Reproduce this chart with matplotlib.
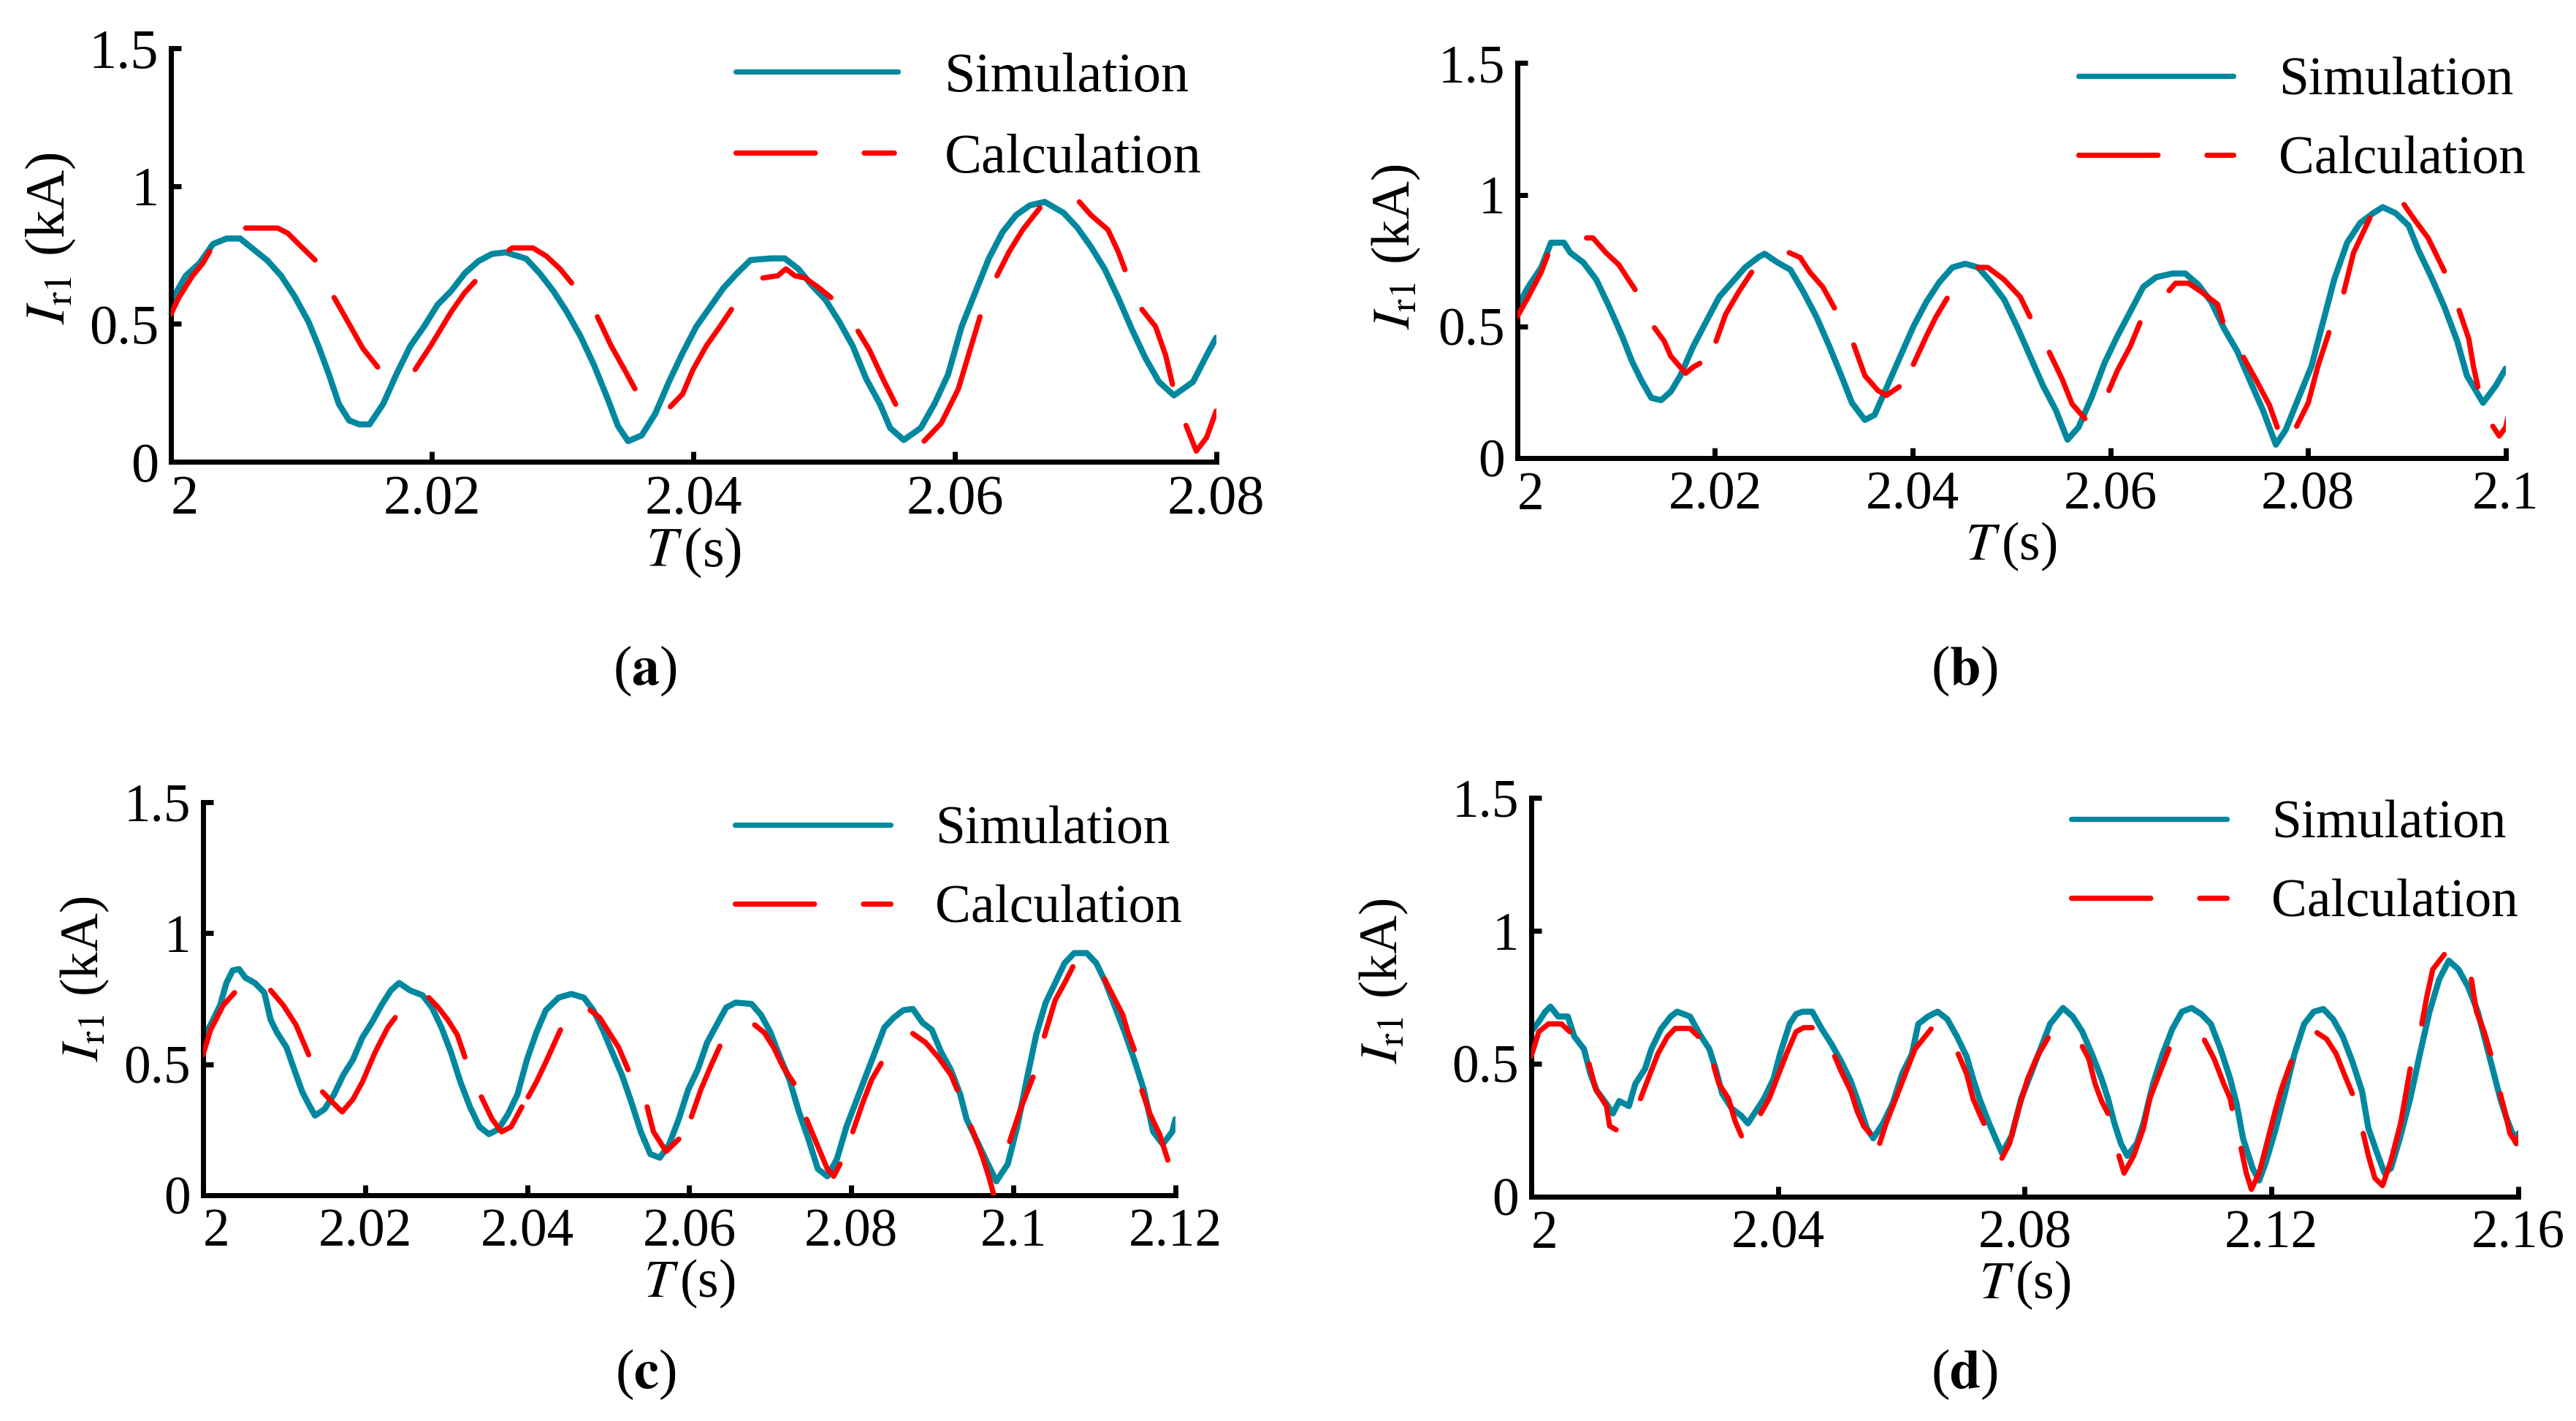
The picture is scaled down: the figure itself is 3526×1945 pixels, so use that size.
import numpy as np
import matplotlib
matplotlib.use("Agg")
import matplotlib.pyplot as plt
from matplotlib.lines import Line2D

plt.rcParams['font.family'] = ['Liberation Serif', 'DejaVu Serif']
plt.rcParams['mathtext.fontset'] = 'stix'

nan = np.nan
TEAL = '#00889F'
RED = '#FF0000'

# time is given in ms after t = 2 s, current in kA
# (a)
sim_a_ms = [0, 1.15, 2.19, 3.23, 4.27, 5.31, 6.35, 7.40, 8.44, 9.48, 10.52, 11.30, 12.08,
            12.86, 13.65, 14.43, 15.21, 16.25, 17.29, 18.33, 19.37, 20.42, 21.46, 22.50,
            23.54, 24.58, 25.62, 27.19, 28.23, 29.27, 30.31, 31.35, 32.40, 33.44, 34.22,
            35.00, 36.04, 37.08, 38.12, 39.17, 40.21, 41.25, 42.29, 43.33, 44.37, 45.94,
            46.98, 48.02, 49.06, 50.10, 51.15, 52.19, 53.23, 54.27, 55.05, 56.09, 57.40,
            58.44, 59.48, 60.52, 61.56, 62.60, 63.65, 64.69, 65.73, 66.88, 68.33, 69.37,
            70.42, 71.46, 72.50, 73.54, 74.58, 75.63, 76.77, 78.23, 79.27, 80.0]
sim_a_i = [0.58, 0.675, 0.72, 0.79, 0.81, 0.81, 0.77, 0.73, 0.675, 0.60, 0.51, 0.42, 0.32,
           0.21, 0.15, 0.136, 0.136, 0.21, 0.32, 0.42, 0.49, 0.57, 0.62, 0.684, 0.728,
           0.754, 0.76, 0.737, 0.684, 0.62, 0.544, 0.456, 0.35, 0.228, 0.13, 0.075, 0.096,
           0.175, 0.29, 0.395, 0.49, 0.56, 0.63, 0.684, 0.732, 0.738, 0.738, 0.70, 0.64,
           0.588, 0.509, 0.42, 0.30, 0.21, 0.123, 0.079, 0.123, 0.21, 0.316, 0.49, 0.614,
           0.737, 0.833, 0.895, 0.93, 0.943, 0.903, 0.85, 0.78, 0.70, 0.596, 0.482, 0.377,
           0.29, 0.241, 0.29, 0.386, 0.45]
calc_a_ms = [0, 0.62, 1.67, 2.45, 2.97, nan, 5.73, 8.18, 8.96, 10.0, 11.04, nan,
             12.5, 13.65, 14.69, 15.83, nan, 18.7, 19.89, 21.46, 22.5, 23.28, nan,
             25.88, 26.14, 27.71, 28.75, 29.79, 30.67, nan, 32.65, 33.7, 34.74, 35.52, nan,
             38.23, 39.17, 39.95, 40.99, 42.03, 42.91, nan,
             45.31, 46.45, 47.08, 47.76, 48.54, 49.58, 50.52, nan,
             52.6, 53.49, 54.53, 55.47, nan, 57.65, 58.96, 60.26, 61.04, 61.93, nan,
             63.23, 64.17, 65.2, 66.51, nan, 69.53, 70.42, 71.72, 72.5, 73.02, nan,
             74.32, 75.36, 76.14, 76.66, nan, 77.7, 78.48, 79.27, 80.0]
calc_a_i = [0.535, 0.596, 0.675, 0.72, 0.763, nan, 0.848, 0.848, 0.829, 0.78, 0.732, nan,
            0.596, 0.5, 0.412, 0.344, nan, 0.335, 0.421, 0.544, 0.614, 0.654, nan,
            0.768, 0.776, 0.776, 0.746, 0.70, 0.649, nan, 0.526, 0.421, 0.333, 0.265, nan,
            0.2, 0.246, 0.333, 0.421, 0.491, 0.553, nan,
            0.667, 0.675, 0.70, 0.675, 0.667, 0.632, 0.596, nan,
            0.474, 0.404, 0.298, 0.209, nan, 0.075, 0.14, 0.263, 0.386, 0.526, nan,
            0.675, 0.763, 0.842, 0.921, nan, 0.943, 0.895, 0.842, 0.763, 0.697, nan,
            0.553, 0.491, 0.386, 0.281, nan, 0.132, 0.039, 0.088, 0.184]

# (b)
sim_b_ms = [0, 1.11, 2.42, 3.41, 4.72, 5.37, 6.68, 7.99, 9.30, 10.61, 11.59, 12.57, 13.56,
            14.54, 15.52, 16.50, 17.81, 19.12, 20.43, 21.74, 23.05, 24.36, 25.02, 26.33,
            27.64, 28.95, 30.26, 31.57, 32.88, 33.86, 35.17, 36.15, 37.46, 38.77, 40.08,
            41.39, 42.70, 44.01, 45.32, 46.63, 47.94, 49.25, 50.56, 51.87, 53.18, 54.49,
            55.67, 56.78, 58.09, 59.40, 60.71, 62.02, 63.33, 64.64, 66.28, 67.59, 68.90,
            70.21, 71.52, 72.83, 74.13, 75.44, 76.75, 77.74, 79.05, 80.36, 81.34, 82.65,
            83.96, 85.27, 86.58, 87.56, 88.87, 90.18, 91.17, 92.48, 93.79, 95.10, 96.08,
            97.71, 99.02, 100.0]
sim_b_i = [0.575, 0.65, 0.724, 0.818, 0.818, 0.78, 0.743, 0.678, 0.575, 0.463, 0.369, 0.294,
           0.229, 0.22, 0.252, 0.313, 0.425, 0.519, 0.612, 0.668, 0.724, 0.762, 0.776,
           0.743, 0.715, 0.631, 0.537, 0.425, 0.304, 0.21, 0.145, 0.164, 0.276, 0.388, 0.5,
           0.593, 0.668, 0.724, 0.738, 0.724, 0.668, 0.603, 0.5, 0.388, 0.276, 0.182, 0.07,
           0.117, 0.229, 0.36, 0.463, 0.556, 0.65, 0.687, 0.701, 0.701, 0.659, 0.593,
           0.491, 0.407, 0.294, 0.182, 0.051, 0.107, 0.229, 0.35, 0.491, 0.678, 0.818,
           0.893, 0.93, 0.953, 0.93, 0.883, 0.79, 0.687, 0.575, 0.444, 0.313, 0.21, 0.276,
           0.34]
calc_b_ms = [0, 1.11, 2.42, 3.08, nan, 7.01, 7.66, 8.97, 10.28, 10.94, 11.92, nan,
             13.88, 14.87, 15.52, 17.03, 17.81, 18.47, nan, 20.11, 21.09, 22.40, 23.71, nan,
             27.51, 28.62, 29.60, 30.91, 32.09, nan, 34.05, 35.17, 36.48, 37.33, 38.64, nan,
             40.08, 41.39, 42.37, 43.49, nan, 46.63, 47.61, 49.25, 50.89, 51.87, nan,
             53.83, 55.14, 56.13, 57.43, nan, 59.86, 60.71, 62.02, 63.0, nan,
             65.95, 66.60, 67.91, 69.22, 70.86, 71.38, nan, 73.48, 74.79, 76.10, 76.89, nan,
             78.85, 80.03, 81.01, 82.12, nan, 83.63, 84.61, 86.25, nan,
             89.72, 90.84, 92.15, 93.0, 93.79, nan, 95.29, 96.27, 96.73, 97.19, nan,
             98.70, 99.35, 100.0, 100.46]
calc_b_i = [0.537, 0.612, 0.706, 0.771, nan, 0.836, 0.836, 0.78, 0.734, 0.696, 0.64, nan,
            0.495, 0.444, 0.388, 0.322, 0.346, 0.36, nan, 0.444, 0.547, 0.631, 0.706, nan,
            0.78, 0.762, 0.706, 0.65, 0.57, nan, 0.43, 0.313, 0.257, 0.238, 0.271, nan,
            0.356, 0.463, 0.537, 0.607, nan, 0.724, 0.724, 0.678, 0.612, 0.537, nan,
            0.402, 0.299, 0.206, 0.15, nan, 0.257, 0.332, 0.425, 0.514, nan,
            0.636, 0.664, 0.664, 0.631, 0.584, 0.519, nan, 0.383, 0.294, 0.201, 0.117, nan,
            0.121, 0.21, 0.35, 0.477, nan, 0.631, 0.78, 0.911, nan,
            0.963, 0.902, 0.836, 0.771, 0.71, nan, 0.561, 0.453, 0.35, 0.271, nan,
            0.121, 0.084, 0.117, 0.192]

# (c)
sim_c_ms = [0, 0.94, 2.11, 2.89, 3.67, 4.45, 5.23, 6.40, 7.57, 8.35, 9.13, 10.31, 11.48,
            12.26, 13.04, 13.82, 14.99, 16.16, 17.33, 18.50, 19.67, 20.84, 22.02, 23.19,
            24.20, 25.53, 27.09, 28.26, 29.43, 30.60, 31.77, 32.95, 34.12, 35.29, 36.46,
            37.63, 38.80, 39.97, 41.14, 42.31, 43.88, 45.44, 47.0, 48.17, 49.34, 50.51,
            51.68, 52.85, 54.03, 55.20, 56.37, 57.54, 58.71, 59.88, 61.05, 62.22, 63.39,
            64.56, 65.74, 67.69, 68.86, 70.03, 71.20, 72.37, 73.54, 74.71, 75.88, 77.05,
            78.23, 79.40, 80.57, 81.74, 82.91, 84.08, 85.25, 86.42, 87.59, 88.77, 89.94,
            91.11, 92.28, 93.45, 94.23, 95.40, 96.57, 97.90, 99.31, 100.48, 101.65, 102.82,
            103.99, 105.16, 106.33, 107.50, 109.06, 110.23, 111.41, 112.58, 113.75, 114.92,
            116.09, 117.26, 118.43, 119.60, 120.0]
sim_c_i = [0.602, 0.65, 0.725, 0.81, 0.858, 0.863, 0.83, 0.81, 0.773, 0.669, 0.621, 0.564,
           0.46, 0.394, 0.347, 0.304, 0.328, 0.384, 0.46, 0.517, 0.602, 0.659, 0.725, 0.782,
           0.81, 0.782, 0.763, 0.716, 0.64, 0.545, 0.432, 0.337, 0.261, 0.233, 0.252, 0.309,
           0.384, 0.517, 0.621, 0.706, 0.754, 0.768, 0.754, 0.706, 0.631, 0.545, 0.46,
           0.356, 0.242, 0.157, 0.143, 0.195, 0.29, 0.403, 0.479, 0.583, 0.65, 0.716, 0.735,
           0.73, 0.688, 0.621, 0.527, 0.441, 0.318, 0.214, 0.1, 0.072, 0.138, 0.261, 0.356,
           0.451, 0.545, 0.64, 0.678, 0.706, 0.711, 0.659, 0.631, 0.545, 0.479, 0.384, 0.29,
           0.214, 0.138, 0.053, 0.119, 0.261, 0.441, 0.612, 0.735, 0.81, 0.886, 0.924,
           0.924, 0.886, 0.81, 0.716, 0.621, 0.517, 0.403, 0.242, 0.195, 0.242, 0.29]
calc_c_ms = [0, 0.94, 2.50, 3.90, nan, 8.35, 9.91, 11.48, 12.26, 13.04, nan,
             14.76, 15.93, 17.18, 18.50, 19.67, 21.23, 22.80, 23.73, nan,
             27.87, 29.04, 30.21, 31.38, 32.32, nan, 34.35, 35.68, 36.85, 38.02, 39.35, nan,
             40.13, 41.14, 42.31, 44.11, nan, 47.78, 48.95, 50.12, 51.29, 52.46, nan,
             54.81, 55.59, 57.15, 58.71, nan, 60.27, 61.44, 62.61, 63.78, nan,
             68.08, 69.25, 70.42, 71.59, 72.92, nan, 74.48, 75.88, 77.05, 77.83, 78.61, nan,
             80.18, 81.35, 82.52, 83.69, nan, 87.59, 89.16, 90.72, 92.28, 93.06, nan,
             94.78, 96.18, 96.96, 97.59, nan, 99.54, 100.87, 102.43, nan,
             103.83, 105.16, 106.33, 107.35, nan, 111.25, 112.58, 113.51, 114.14, 114.92, nan,
             115.86, 116.87, 118.04, 119.06]
calc_c_i = [0.536, 0.631, 0.725, 0.773, nan, 0.782, 0.725, 0.65, 0.593, 0.536, nan,
            0.394, 0.356, 0.318, 0.366, 0.432, 0.545, 0.64, 0.678, nan,
            0.754, 0.716, 0.669, 0.612, 0.527, nan, 0.375, 0.29, 0.242, 0.261, 0.337, nan,
            0.375, 0.432, 0.508, 0.631, nan, 0.706, 0.678, 0.621, 0.564, 0.479, nan,
            0.337, 0.242, 0.167, 0.214, nan, 0.299, 0.403, 0.489, 0.569, nan,
            0.65, 0.621, 0.564, 0.489, 0.427, nan, 0.29, 0.186, 0.1, 0.072, 0.119, nan,
            0.242, 0.347, 0.441, 0.503, nan, 0.617, 0.583, 0.527, 0.46, 0.403, nan,
            0.261, 0.148, 0.072, 0.001, nan, 0.205, 0.328, 0.451, nan,
            0.607, 0.744, 0.81, 0.872, nan, 0.825, 0.744, 0.688, 0.621, 0.555, nan,
            0.399, 0.309, 0.233, 0.134]

# (d)
sim_d_ms = [0, 1.25, 2.29, 3.13, 4.38, 5.94, 6.98, 8.55, 9.59, 10.63, 12.19, 13.24, 14.28,
            15.84, 16.89, 18.45, 19.49, 21.05, 22.62, 23.66, 25.74, 27.31, 28.87, 29.91,
            30.96, 32.52, 34.08, 35.13, 36.17, 37.73, 39.29, 40.34, 41.90, 42.94, 43.98,
            45.55, 47.11, 48.68, 50.24, 51.80, 53.37, 54.41, 55.45, 57.02, 58.58, 60.14,
            61.71, 62.75, 64.32, 65.88, 67.44, 69.01, 70.57, 71.62, 72.66, 74.22, 75.79,
            76.31, 77.87, 79.42, 81.0, 82.55, 84.11, 86.2, 87.76, 89.33, 90.89, 92.45, 93.49,
            94.54, 95.58, 96.62, 98.18, 99.23, 100.79, 102.35, 103.92, 105.48, 107.04,
            108.61, 110.17, 111.73, 113.30, 114.34, 115.38, 116.94, 117.99, 119.03, 120.59,
            122.16, 123.72, 125.29, 126.85, 128.41, 129.98, 131.54, 133.10, 134.67, 135.71,
            137.27, 138.31, 139.36, 140.92, 142.48, 144.05, 145.61, 147.18, 148.74, 150.30,
            151.86, 153.43, 154.99, 156.04, 157.08, 158.12, 159.68, 160.0]
sim_d_i = [0.621, 0.659, 0.696, 0.715, 0.678, 0.678, 0.603, 0.556, 0.463, 0.399, 0.35,
           0.313, 0.36, 0.341, 0.425, 0.481, 0.556, 0.631, 0.678, 0.696, 0.678, 0.612,
           0.556, 0.481, 0.388, 0.332, 0.304, 0.276, 0.313, 0.369, 0.444, 0.537, 0.65,
           0.687, 0.696, 0.696, 0.631, 0.574, 0.509, 0.435, 0.332, 0.257, 0.22, 0.276, 0.35,
           0.463, 0.537, 0.65, 0.678, 0.696, 0.668, 0.603, 0.528, 0.444, 0.369, 0.276,
           0.192, 0.164, 0.229, 0.369, 0.463, 0.556, 0.65, 0.71, 0.678, 0.621, 0.537, 0.444,
           0.369, 0.276, 0.201, 0.154, 0.201, 0.276, 0.425, 0.537, 0.631, 0.696, 0.71,
           0.687, 0.65, 0.556, 0.444, 0.35, 0.22, 0.107, 0.061, 0.126, 0.248, 0.388, 0.537,
           0.65, 0.696, 0.706, 0.668, 0.603, 0.509, 0.397, 0.257, 0.154, 0.089, 0.107,
           0.229, 0.369, 0.537, 0.696, 0.818, 0.888, 0.855, 0.79, 0.696, 0.556, 0.463,
           0.369, 0.294, 0.201, 0.238]
calc_d_ms = [0, 1.25, 2.81, 4.90, 6.25, nan, 9.38, 10.42, 12.19, 12.72, 13.76, nan,
             17.72, 18.97, 20.53, 22.10, 23.35, 25.74, 27.10, nan,
             29.60, 30.43, 31.99, 33.04, 34.08, nan,
             37.21, 38.57, 39.82, 41.38, 42.94, 44.19, 45.55, nan,
             49.20, 50.24, 51.80, 52.84, 53.89, 54.93, nan,
             56.49, 57.53, 59.10, 60.66, 62.23, 64.83, nan,
             69.21, 70.57, 71.62, 72.66, 73.38, nan,
             76.30, 77.55, 78.90, 80.47, 82.03, 83.80, nan,
             89.33, 90.37, 91.41, 92.45, 93.49, nan,
             95.27, 96.10, 97.66, 99.23, 100.27, 101.83, 103.40, nan,
             109.13, 110.69, 112.26, 113.30, 113.61, nan,
             115.07, 115.91, 116.74, 117.99, 119.03, 120.59, 121.63, 123.20, nan,
             127.37, 128.93, 130.49, 131.75, 133.10, nan,
             134.87, 135.71, 136.75, 138.0, 139.36, 140.92, 142.48, nan,
             144.36, 145.09, 146.13, 148.01, nan, 152.39, 153.22, 154.47, 155.51, nan,
             157.08, 157.81, 158.64, 159.68, 160.3]
calc_d_i = [0.528, 0.621, 0.65, 0.65, 0.621, nan, 0.5, 0.407, 0.341, 0.266, 0.252, nan,
            0.369, 0.444, 0.537, 0.603, 0.633, 0.633, 0.603, nan,
            0.491, 0.425, 0.369, 0.285, 0.229, nan,
            0.313, 0.369, 0.444, 0.537, 0.621, 0.636, 0.636, nan,
            0.528, 0.472, 0.397, 0.322, 0.266, 0.238, nan,
            0.201, 0.276, 0.369, 0.463, 0.556, 0.631, nan,
            0.537, 0.463, 0.369, 0.313, 0.276, nan,
            0.145, 0.201, 0.322, 0.444, 0.528, 0.598, nan,
            0.565, 0.519, 0.425, 0.36, 0.313, nan,
            0.154, 0.089, 0.154, 0.257, 0.369, 0.463, 0.556, nan,
            0.589, 0.519, 0.425, 0.369, 0.332, nan,
            0.182, 0.089, 0.028, 0.089, 0.182, 0.322, 0.407, 0.509, nan,
            0.617, 0.593, 0.537, 0.463, 0.388, nan,
            0.238, 0.154, 0.07, 0.042, 0.136, 0.276, 0.481, nan,
            0.65, 0.743, 0.855, 0.911, nan, 0.818, 0.696, 0.621, 0.537, nan,
            0.388, 0.322, 0.238, 0.201, 0.235]

xticks_a = ['2', '2.02', '2.04', '2.06', '2.08']
xticks_b = ['2', '2.02', '2.04', '2.06', '2.08', '2.1']
xticks_c = ['2', '2.02', '2.04', '2.06', '2.08', '2.1', '2.12']
xticks_d = ['2', '2.04', '2.08', '2.12', '2.16']
yticks = ['0', '0.5', '1', '1.5']


def draw_panel(ax, sim_ms, sim_i, calc_ms, calc_i, xlabels, leg_anchor, ylab_pos, fs):
    sim_t = 2 + np.array(sim_ms, dtype=float) / 1000
    calc_t = 2 + np.array(calc_ms, dtype=float) / 1000
    ax.plot(sim_t, sim_i, color=TEAL, lw=3.0,
            solid_capstyle='round', solid_joinstyle='round', zorder=2)
    ax.plot(calc_t, calc_i, color=RED, lw=2.6,
            solid_capstyle='round', solid_joinstyle='round', zorder=3)
    calc_proxy = Line2D([], [], color=RED, lw=2.6, dashes=(15, 9.3, 5.7, 9.3),
                        dash_capstyle='round')
    sim_proxy = Line2D([], [], color=TEAL, lw=2.6, solid_capstyle='round')

    ticks = [float(s) for s in xlabels]
    ax.set_xlim(ticks[0], ticks[-1])
    ax.set_ylim(0, 1.5)
    ax.set_xticks(ticks)
    ax.set_xticklabels(xlabels)
    ax.get_xticklabels()[0].set_horizontalalignment('left')
    ax.set_yticks([0, 0.5, 1, 1.5])
    ax.set_yticklabels(yticks)
    for s in ['top', 'right']:
        ax.spines[s].set_visible(False)
    for s in ['left', 'bottom']:
        ax.spines[s].set_linewidth(2.5)
    ax.tick_params(direction='in', length=5, width=2.5, labelsize=fs)
    ax.tick_params(axis='x', pad=6.5)
    ax.tick_params(axis='y', pad=6)
    ax.set_xlabel(r'$T\,$(s)', fontsize=fs, labelpad=0)
    ax.set_ylabel(r'$I_{\mathrm{r1}}$ (kA)', fontsize=fs)
    ax.yaxis.set_label_coords(*ylab_pos)

    ax.legend([sim_proxy, calc_proxy], ['Simulation', 'Calculation'],
              loc='upper right', bbox_to_anchor=leg_anchor, frameon=False,
              fontsize=fs, handlelength=2.9, handletextpad=0.84,
              labelspacing=0.55, borderpad=0, borderaxespad=0)


fig = plt.figure(figsize=(17.63, 9.725), dpi=200)

ax_a = fig.add_axes([0.0663, 0.675, 0.4058, 0.291])
ax_b = fig.add_axes([0.5890, 0.6776, 0.3837, 0.278])
ax_c = fig.add_axes([0.0788, 0.1589, 0.3775, 0.2766])
ax_d = fig.add_axes([0.5944, 0.1578, 0.3832, 0.2807])

draw_panel(ax_a, sim_a_ms, sim_a_i, calc_a_ms, calc_a_i, xticks_a,
           (0.986, 0.991), (-128 / 1431, 0.54), 27.5)
draw_panel(ax_b, sim_b_ms, sim_b_i, calc_b_ms, calc_b_i, xticks_b,
           (1.02, 1.015), (-130 / 1353, 0.535), 26.4)
draw_panel(ax_c, sim_c_ms, sim_c_i, calc_c_ms, calc_c_i, xticks_c,
           (1.007, 0.99), (-126 / 1331, 0.55), 26.4)
draw_panel(ax_d, sim_d_ms, sim_d_i, calc_d_ms, calc_d_i, xticks_d,
           (1.0, 0.995), (-166 / 1351, 0.54), 26.4)

for lbl, x, y in [('a', 0.2505, 0.528), ('b', 0.7625, 0.528),
                  ('c', 0.2505, 0.033), ('d', 0.7625, 0.033)]:
    fig.text(x, y, '($\\mathbf{%s}$)' % lbl, fontsize=27.5, ha='center', va='center')

fig.savefig('out.png', dpi=200)
